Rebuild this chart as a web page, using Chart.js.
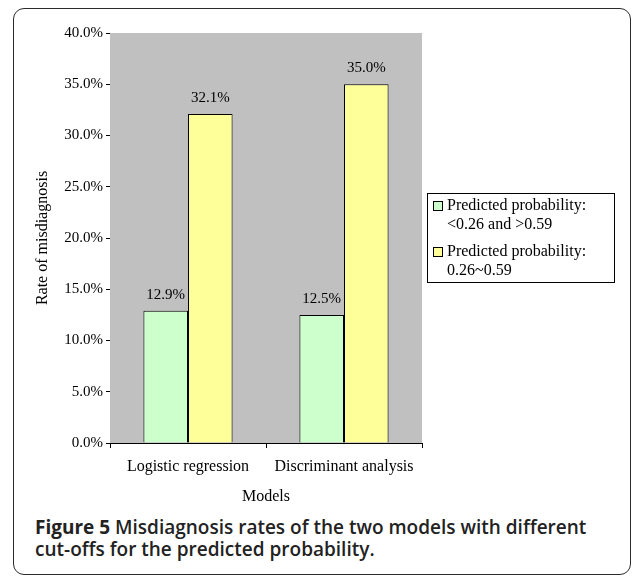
<!DOCTYPE html>
<html>
<head>
<meta charset="utf-8">
<script src="https://cdn.jsdelivr.net/npm/chart.js@4"></script>
<style>
  html, body { margin: 0; padding: 0; background: #ffffff; }
  body { width: 634px; height: 576px; position: relative; overflow: hidden; }
  #frame {
    position: absolute; left: 13px; top: 8px; width: 618px; height: 567px;
    border: 1.5px solid #2b2b2b; border-radius: 11px; box-sizing: border-box;
  }
  #wrap { position: absolute; left: 0; top: 0; width: 634px; height: 510px; }
  #caption {
    position: absolute; left: 35px; top: 516px; width: 596px; white-space: nowrap;
    font-family: "Open Sans", "Noto Sans", sans-serif; font-size: 19px;
    font-weight: 600; line-height: 22px; color: #222;
  }
  #caption b { font-weight: 700; }
</style>
</head>
<body>
<div id="frame"></div>
<div id="wrap"><canvas id="chart" width="634" height="510"></canvas></div>
<div id="caption"><b>Figure 5</b> Misdiagnosis rates of the two models with different<br>cut-offs for the predicted probability.</div>
<script>
// Misdiagnosis rate (%) by model and predicted-probability band
const models = ['Logistic regression', 'Discriminant analysis'];
const outerBand = [12.9, 12.5];   // <0.26 and >0.59
const middleBand = [32.1, 35.0];  // 0.26~0.59
const bandLabels = [
  ['Predicted probability:', '<0.26 and >0.59'],
  ['Predicted probability:', '0.26~0.59']
];
const yTicks = [0, 5, 10, 15, 20, 25, 30, 35, 40];

const SERIF = '"Liberation Serif", "Times New Roman", serif';

// Gray plotting background
const plotBackground = {
  id: 'plotBackground',
  beforeDatasetsDraw(chart) {
    const { ctx, chartArea: a } = chart;
    ctx.save();
    ctx.fillStyle = '#c0c0c0';
    ctx.fillRect(a.left, a.top, a.right - a.left, a.bottom - a.top);
    ctx.restore();
  }
};

// Percent labels above each bar
const valueLabels = {
  id: 'valueLabels',
  afterDatasetsDraw(chart) {
    const { ctx } = chart;
    ctx.save();
    ctx.font = '15px ' + SERIF;
    ctx.fillStyle = '#000';
    ctx.textAlign = 'center';
    ctx.textBaseline = 'middle';
    chart.data.datasets.forEach((ds, i) => {
      chart.getDatasetMeta(i).data.forEach((bar, j) => {
        ctx.fillText(ds.data[j].toFixed(1) + '%', bar.x, bar.y - 16);
      });
    });
    ctx.restore();
  }
};

// Boxed legend with two-line entries to the right of the plot
const boxLegend = {
  id: 'boxLegend',
  afterDraw(chart) {
    const { ctx, chartArea: a } = chart;
    const left = a.right + 5, right = 614, top = 193, bottom = 282;
    ctx.save();
    ctx.fillStyle = '#fff';
    ctx.fillRect(left, top, right - left, bottom - top);
    ctx.strokeStyle = '#000';
    ctx.lineWidth = 1;
    ctx.strokeRect(left + 0.5, top + 0.5, right - left, bottom - top);
    ctx.font = '16px ' + SERIF;
    ctx.textBaseline = 'middle';
    ctx.textAlign = 'left';
    const rowStart = [206, 252];
    chart.data.datasets.forEach((ds, i) => {
      const y0 = rowStart[i];
      ctx.fillStyle = ds.backgroundColor;
      ctx.fillRect(left + 6.5, y0 - 4.5, 9, 9);
      ctx.strokeStyle = '#000';
      ctx.strokeRect(left + 6.5, y0 - 4.5, 9, 9);
      ctx.fillStyle = '#000';
      bandLabels[i].forEach((line, k) => ctx.fillText(line, left + 20, y0 + k * 19));
    });
    ctx.restore();
  }
};

new Chart(document.getElementById('chart'), {
  type: 'bar',
  data: {
    labels: models,
    datasets: [
      { label: bandLabels[0].join(' '), data: outerBand, backgroundColor: '#ccffcc',
        borderColor: '#000', borderWidth: 1, borderSkipped: 'bottom' },
      { label: bandLabels[1].join(' '), data: middleBand, backgroundColor: '#ffff99',
        borderColor: '#000', borderWidth: 1, borderSkipped: 'bottom' }
    ]
  },
  options: {
    responsive: false,
    animation: false,
    devicePixelRatio: 1,
    layout: { padding: { left: 0, right: 212, top: 33, bottom: 0 } },
    datasets: { bar: { categoryPercentage: 2 / 3.5, barPercentage: 1 } },
    plugins: { legend: { display: false }, tooltip: { enabled: false } },
    scales: {
      x: {
        grid: { display: true, offset: true, drawOnChartArea: false, color: '#000', tickLength: 5, lineWidth: 1 },
        border: { display: true, color: '#000', width: 1 },
        ticks: { color: '#000', font: { family: SERIF, size: 16 }, padding: 9, maxRotation: 0 },
        title: { display: true, text: 'Models', color: '#000', font: { family: SERIF, size: 16 }, padding: { top: 0, bottom: 4 } },
        afterFit(scale) { scale.height = 67; }
      },
      y: {
        min: 0, max: 40,
        afterBuildTicks(scale) { scale.ticks = yTicks.map(v => ({ value: v })); },
        grid: { display: true, drawOnChartArea: false, color: '#000', tickLength: 4, lineWidth: 1 },
        border: { display: true, color: '#000', width: 1 },
        ticks: { color: '#000', font: { family: SERIF, size: 15 }, padding: 3,
                 callback: v => v.toFixed(1) + '%' },
        title: { display: true, text: 'Rate of misdiagnosis', color: '#000', font: { family: SERIF, size: 16 }, padding: { top: 33, bottom: 0 } },
        afterFit(scale) { scale.width = 110; }
      }
    }
  },
  plugins: [plotBackground, valueLabels, boxLegend]
});
</script>
</body>
</html>
